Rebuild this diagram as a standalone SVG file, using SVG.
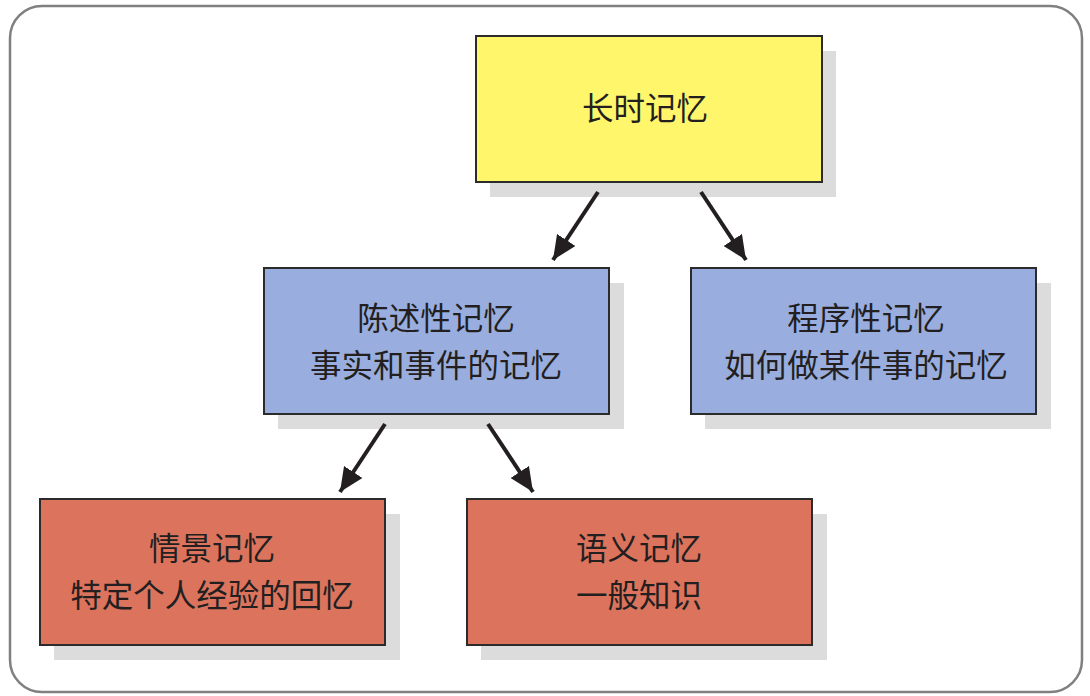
<svg xmlns="http://www.w3.org/2000/svg" width="1090" height="696" viewBox="0 0 1090 696">
  <defs>
    <style>
      .shadow { fill: #dcdcdc; }
      .box { stroke: #2b2b2b; stroke-width: 2; }
      .yellow { fill: #fff66b; }
      .blue { fill: #99aedf; }
      .red { fill: #dc735d; }
      .label { font-family: "Noto Sans CJK SC", "Noto Sans", sans-serif; font-size: 31.5px; fill: #231f20; text-anchor: middle; }
      .conn { stroke: #231f20; stroke-width: 4; fill: none; marker-end: url(#arrow); }
    </style>
    <marker id="arrow" viewBox="0 0 10 10" refX="10" refY="5" markerWidth="6" markerHeight="5.5" markerUnits="strokeWidth" orient="auto" preserveAspectRatio="none">
      <path d="M0,0 L10,5 L0,10 z" fill="#231f20"/>
    </marker>
  </defs>

  <rect x="10" y="6" width="1072" height="686" rx="32" ry="32" fill="#ffffff" stroke="#808080" stroke-width="2.5"/>

  <g id="long-term">
    <rect class="shadow" x="490" y="51" width="346" height="146"/>
    <rect class="box yellow" x="476" y="36" width="346" height="146"/>
    <text class="label" x="645" y="120">长时记忆</text>
  </g>

  <g id="declarative">
    <rect class="shadow" x="278" y="283" width="346" height="146"/>
    <rect class="box blue" x="264" y="268" width="345" height="146"/>
    <text class="label" x="436" y="330">陈述性记忆</text>
    <text class="label" x="436" y="377">事实和事件的记忆</text>
  </g>

  <g id="procedural">
    <rect class="shadow" x="705" y="283" width="346" height="146"/>
    <rect class="box blue" x="691" y="268" width="345" height="146"/>
    <text class="label" x="866" y="330">程序性记忆</text>
    <text class="label" x="866" y="377">如何做某件事的记忆</text>
  </g>

  <g id="episodic">
    <rect class="shadow" x="54" y="514" width="346" height="146"/>
    <rect class="box red" x="40" y="499" width="345" height="146"/>
    <text class="label" x="212" y="560">情景记忆</text>
    <text class="label" x="212" y="607">特定个人经验的回忆</text>
  </g>

  <g id="semantic">
    <rect class="shadow" x="481" y="514" width="346" height="146"/>
    <rect class="box red" x="467" y="499" width="345" height="146"/>
    <text class="label" x="639" y="560">语义记忆</text>
    <text class="label" x="639" y="607">一般知识</text>
  </g>

  <g id="connectors">
    <line class="conn" x1="598" y1="192" x2="553" y2="260"/>
    <line class="conn" x1="701" y1="192" x2="746" y2="260"/>
    <line class="conn" x1="385" y1="424" x2="340" y2="492"/>
    <line class="conn" x1="488" y1="424" x2="533" y2="492"/>
  </g>
</svg>
